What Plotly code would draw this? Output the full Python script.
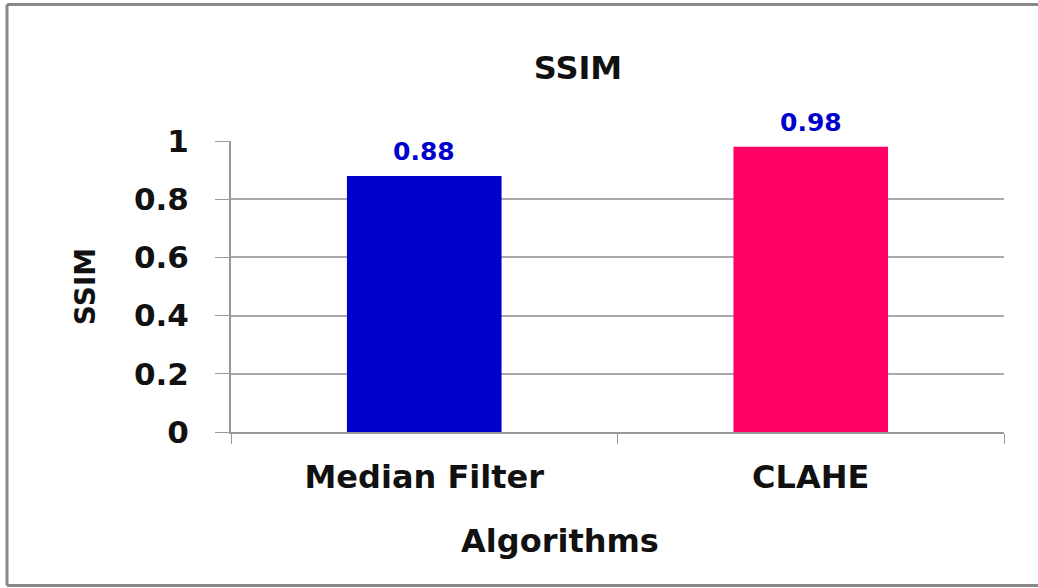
import plotly.graph_objects as go

categories = ["Median Filter", "CLAHE"]
ssim_values = [0.88, 0.98]
value_labels = ["0.88", "0.98"]
bar_colors = ["#0000CC", "#FF0066"]
y_tick_vals = [0, 0.2, 0.4, 0.6, 0.8, 1]
y_tick_text = ["0", "0.2", "0.4", "0.6", "0.8", "1"]

FONT = "DejaVu Sans"

fig = go.Figure()
fig.add_trace(go.Bar(
    x=categories, y=ssim_values,
    marker=dict(color=bar_colors, line=dict(width=0)),
    width=0.4,
    hoverinfo="x+y",
))

for cat, val, lab in zip(categories, ssim_values, value_labels):
    fig.add_annotation(
        x=cat, y=val, text="<b>%s</b>" % lab, showarrow=False,
        xanchor="center", yanchor="bottom", yshift=8,
        font=dict(family=FONT, size=25, color="#0000CC"),
    )

L, R, T, B = 231, 34, 141, 156
W, H = 1038, 588
pw = W - L - R
ph = H - T - B

def px_x(px):
    return (px - L) / pw

def px_y(py):
    return (H - B - py) / ph

# x-axis title (Excel places it slightly left of the plot centre)
fig.add_annotation(
    xref="paper", yref="paper", x=px_x(560), y=px_y(541),
    xanchor="center", yanchor="middle", showarrow=False,
    text="<b>Algorithms</b>", font=dict(family=FONT, size=32, color="#111"),
)

fig.update_layout(
    width=W, height=H,
    margin=dict(l=L, r=R, t=T, b=B),
    plot_bgcolor="white", paper_bgcolor="white",
    showlegend=False,
    title=dict(text="<b>SSIM</b>", xref="paper", x=px_x(578), xanchor="center",
               y=1 - 68 / H, yanchor="middle",
               font=dict(family=FONT, size=32, color="#111")),
    xaxis=dict(
        type="category", tickson="boundaries", ticks="outside", ticklen=10, tickcolor="#999",
        showline=True, linecolor="#999", linewidth=2, showgrid=False,
        ticklabelstandoff=16,
        tickfont=dict(family=FONT, size=32, color="#111", weight="bold"),
    ),
    yaxis=dict(
        range=[0, 1], tickvals=y_tick_vals, ticktext=y_tick_text,
        ticks="outside", ticklen=14, tickcolor="#999",
        showline=True, linecolor="#999", linewidth=2,
        showgrid=True, gridcolor="#AAAAAA", gridwidth=1.5, zeroline=False,
        ticklabelstandoff=20,
        tickfont=dict(family=FONT, size=31, color="#111", weight="bold"),
        title=dict(text="<b>SSIM</b>", font=dict(family=FONT, size=28, color="#111"), standoff=30),
    ),
)

# outer chart frame (top, left, bottom)
frame = dict(color="#888888", width=3)
x0, x1 = px_x(7), px_x(1038)
y_top, y_bot = px_y(4.5), px_y(585.5)
fig.add_shape(type="line", xref="paper", yref="paper", x0=x0, x1=x1, y0=y_top, y1=y_top, line=frame)
fig.add_shape(type="line", xref="paper", yref="paper", x0=x0, x1=x1, y0=y_bot, y1=y_bot, line=frame)
fig.add_shape(type="line", xref="paper", yref="paper", x0=x0, x1=x0, y0=y_bot, y1=y_top, line=frame)

fig.write_html(
    "out.html",
    config={"displayModeBar": False},
    post_script="document.body.style.margin='0';document.body.style.overflow='hidden';",
)
